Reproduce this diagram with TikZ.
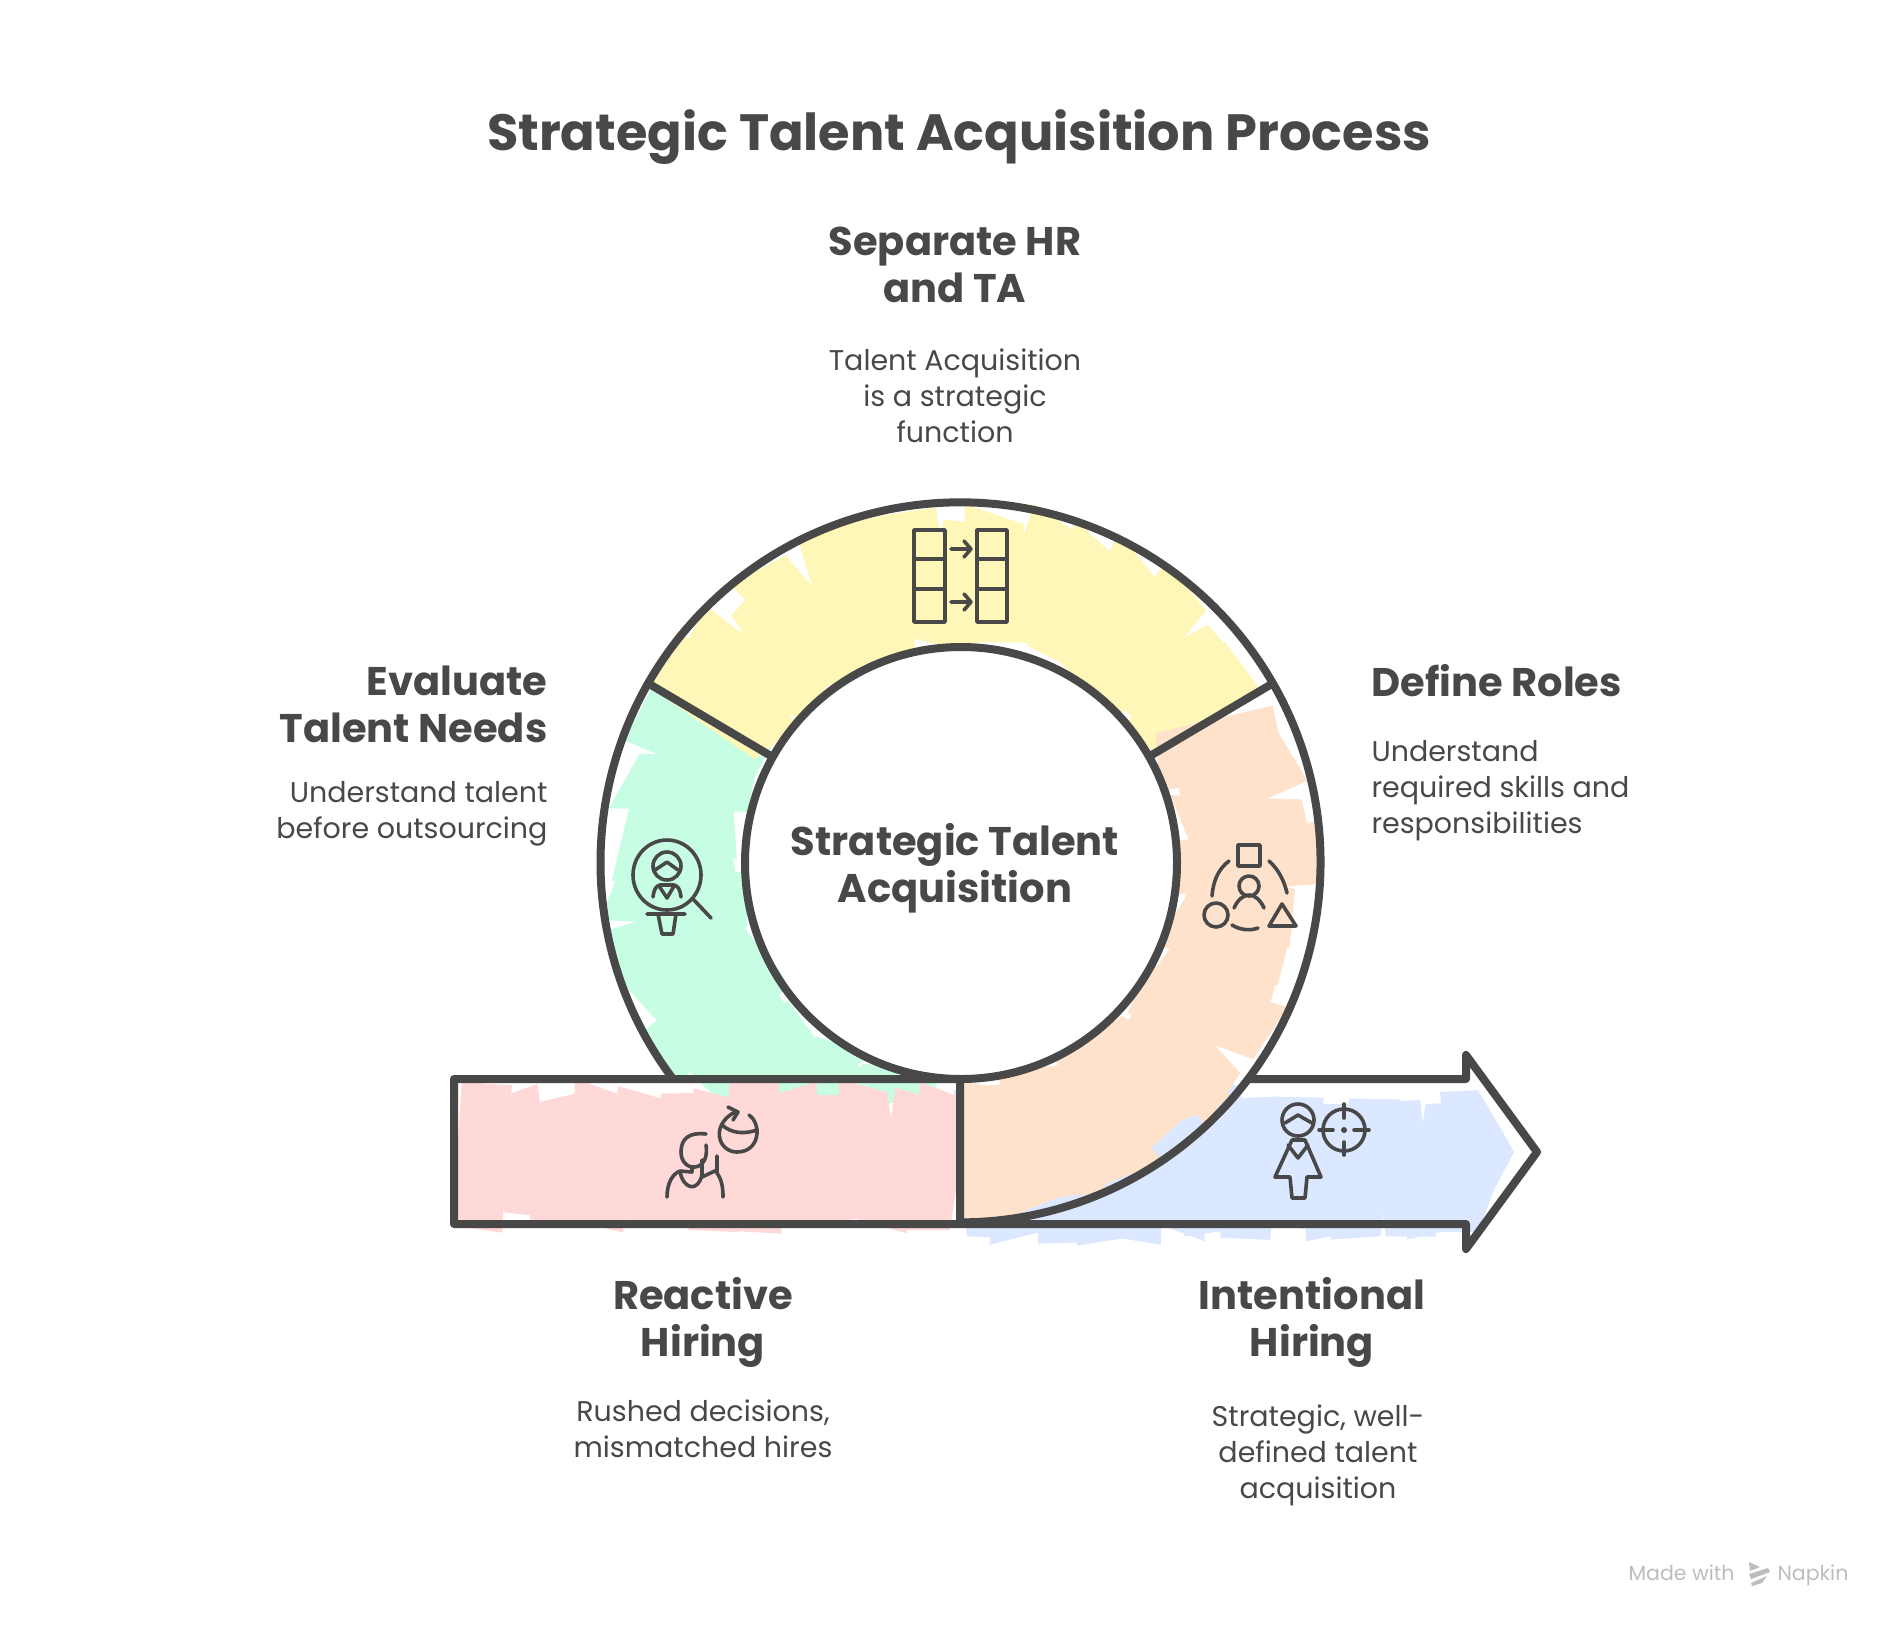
\documentclass[tikz,border=0pt]{standalone}
\usepackage{fontspec}
\setmainfont{Poppins}
\usetikzlibrary{decorations.pathmorphing}
\definecolor{inkgray}{HTML}{484848}
\definecolor{markgray}{HTML}{BDBDBD}
\definecolor{pinkfill}{HTML}{FFD8D8}
\definecolor{greenfill}{HTML}{C7FEE3}
\definecolor{yellowfill}{HTML}{FFF7B8}
\definecolor{orangefill}{HTML}{FFE2CB}
\definecolor{bluefill}{HTML}{DBE8FF}
\tikzset{
    sketchfill/.style={fill=#1, decorate, decoration={random steps, segment length=40pt, amplitude=9pt}},
    ringline/.style={draw=inkgray, line width=8pt, line cap=round, line join=round},
    iconline/.style={draw=inkgray, line width=3.6pt, line cap=round, line join=round},
    titletext/.style={text=inkgray, font=\fontsize{51}{58}\selectfont\bfseries, align=center},
    headtext/.style={text=inkgray, font=\fontsize{40}{47}\selectfont\bfseries},
    bodytext/.style={text=inkgray, font=\fontsize{28.5}{36}\selectfont}
}
% slanted bands round the ring: colour, list of angles
\newcommand{\ringbands}[2]{
    \foreach \a in {#2} {
        \pgfmathsetmacro{\tilt}{3.4*rand}
        \pgfmathsetmacro{\outa}{351+15*rand}
        \pgfmathsetmacro{\outb}{351+15*rand}
        \pgfmathsetmacro{\ina}{223+12*rand}
        \pgfmathsetmacro{\inb}{223+12*rand}
        \fill[#1, shift={(ring_c)}] (\a-5+\tilt:\outa) -- (\a+5+\tilt:\outb) -- (\a+7-\tilt:\inb) -- (\a-7-\tilt:\ina) -- cycle;
    }
}
% slanted bands along the bar: colour, list of x, top y, bottom y
\newcommand{\barbands}[4]{
    \foreach \b in {#2} {
        \pgfmathsetmacro{\tilt}{11*rand}
        \pgfmathsetmacro{\topa}{#3+13*rand}
        \pgfmathsetmacro{\topb}{#3+13*rand}
        \pgfmathsetmacro{\bota}{#4+13*rand}
        \pgfmathsetmacro{\botb}{#4+13*rand}
        \fill[#1] (\b-25+\tilt,\topa) -- (\b+25+\tilt,\topb) -- (\b+25-\tilt,\botb) -- (\b-25-\tilt,\bota) -- cycle;
    }
}
\begin{document}
\begin{tikzpicture}[x=1pt,y=-1pt]
    \useasboundingbox (0,0) rectangle (1897,1628);
    \pgfmathsetseed{11}

    % Ring and arrow corner points
    \coordinate (ring_c) at (960,862);
    \coordinate (hole_c) at (961,863);
    \coordinate (div_l_out) at (651,685);
    \coordinate (div_l_in) at (771,756);
    \coordinate (div_r_out) at (1270,685);
    \coordinate (div_r_in) at (1150,756);
    \coordinate (bar_tl) at (454,1079);
    \coordinate (bar_bl) at (454,1224);
    \coordinate (bar_tm) at (960,1079);
    \coordinate (bar_bm) at (960,1224);
    \coordinate (bar_tr) at (1466,1079);
    \coordinate (bar_br) at (1466,1224);
    \coordinate (head_t) at (1466,1055);
    \coordinate (head_b) at (1466,1249);
    \coordinate (head_tip) at (1537,1152);

    % Sketchy colour fills
    \path[sketchfill=bluefill] (1440,1092) -- (1478,1090) -- (1514,1152) -- (1478,1232) -- (1440,1232) -- cycle;
    \barbands{bluefill}{985,1023,...,1450}{1095}{1233}
    \begin{scope}
        \clip (560,600) rectangle (962,1102);
        \ringbands{greenfill}{101,109,...,205}
    \end{scope}
    \barbands{pinkfill}{482,521,...,930}{1091}{1222}
    \begin{scope}
        \clip (454,1060) rectangle (962,1250);
        \barbands{pinkfill}{935}{1091}{1222}
    \end{scope}
    \ringbands{yellowfill}{214,222,...,326}
    \begin{scope}
        \clip (962,600) rectangle (1360,1240);
        \ringbands{orangefill}{336,344,...,456}
    \end{scope}

    % Ring outline
    \draw[ringline] (673,1079) arc[start angle=143, end angle=450, radius=360];
    \draw[ringline] (hole_c) circle[radius=216];
    \draw[ringline] (div_l_out) -- (div_l_in);
    \draw[ringline] (div_r_out) -- (div_r_in);

    % Arrow outline
    \draw[ringline] (1250,1079) -- (bar_tr) -- (head_t) -- (head_tip) -- (head_b) -- (bar_br) -- (bar_bl) -- (bar_tl) -- (bar_tm) -- (bar_bm);

    % Icon for the left segment
    \draw[iconline] (667,875) circle[x radius=34, y radius=35];
    \draw[iconline] (667,866) circle[radius=14];
    \draw[iconline] (655,870) -- (667,862) -- (678,870);
    \draw[iconline] (653,897) .. controls (654,889) and (656,886) .. (660,885) -- (674,885) .. controls (678,886) and (680,889) .. (681,897);
    \draw[iconline] (659,886) -- (667,898) -- (674,886);
    \draw[iconline] (693,899) -- (711,918);
    \draw[iconline] (647,914) -- (685,914) (658,914) -- (662,934) -- (673,934) -- (676,914);

    % Icon for the top segment
    \draw[iconline] (914,530) rectangle (945,622) (914,559) -- (945,559) (914,589) -- (945,589);
    \draw[iconline] (977,530) rectangle (1007,622) (977,559) -- (1007,559) (977,589) -- (1007,589);
    \draw[iconline] (951,549) -- (971,549) (964,541) -- (971,549) -- (964,557);
    \draw[iconline] (951,602) -- (971,602) (964,594) -- (971,602) -- (964,610);

    % Icon for the right segment
    \draw[iconline] (1238,845) rectangle (1260,866);
    \draw[iconline] (1229,861) .. controls (1218,869) and (1213,882) .. (1212,896);
    \draw[iconline] (1269,861) .. controls (1278,869) and (1284,880) .. (1287,893);
    \draw[iconline] (1249,886) circle[radius=10];
    \draw[iconline] (1234,908) .. controls (1238,899) and (1244,895) .. (1249,895) .. controls (1254,895) and (1260,899) .. (1264,908);
    \draw[iconline] (1216,915) circle[radius=12];
    \draw[iconline] (1282,904) -- (1269,926) -- (1296,926) -- cycle;
    \draw[iconline] (1232,925) .. controls (1240,930) and (1250,931) .. (1258,928);

    % Icon for the reactive side
    \draw[iconline] (749,1115) .. controls (762,1124) and (760,1152) .. (737,1152) .. controls (718,1152) and (710,1125) .. (735,1112);
    \draw[iconline] (728,1107) -- (738,1112) -- (733,1120);
    \draw[iconline] (722,1125) .. controls (732,1134) and (745,1134) .. (757,1130);
    \draw[iconline] (706,1134) .. controls (690,1132) and (681,1138) .. (681,1152) .. controls (681,1162) and (688,1168) .. (695,1167) .. controls (703,1166) and (708,1158) .. (706,1145);
    \draw[iconline] (692,1167) -- (692,1172) -- (680,1171) .. controls (672,1174) and (667,1184) .. (667,1197);
    \draw[iconline] (680,1172) .. controls (684,1190) and (698,1192) .. (702,1175) -- (702,1160);
    \draw[iconline] (702,1177) -- (717,1170);
    \draw[iconline] (717,1156) -- (717,1173) .. controls (722,1180) and (723,1188) .. (723,1197);

    % Icon for the intentional side
    \draw[iconline] (1298,1120) circle[radius=16];
    \draw[iconline] (1285,1123) -- (1298,1115) -- (1312,1123);
    \draw[iconline] (1292,1140) -- (1305,1140) -- (1321,1177) -- (1307,1177) -- (1305,1198) -- (1292,1198) -- (1290,1177) -- (1275,1177) -- cycle;
    \draw[iconline] (1288,1145) -- (1298,1158) -- (1308,1145);
    \draw[iconline] (1344,1130) circle[radius=21];
    \draw[iconline] (1319,1130) -- (1333,1130) (1354,1130) -- (1369,1130) (1344,1104) -- (1344,1118) (1344,1142) -- (1344,1155);
    \fill[inkgray] (1344,1130) circle[radius=3];

    % Title and labels
    \node[titletext] (title) at (959,137) {Strategic Talent Acquisition Process};
    \node[headtext, align=center] (separate_head) at (955,265) {Separate HR\\and TA};
    \node[bodytext, align=center] (separate_body) at (955,396) {Talent Acquisition\\is a strategic\\function};
    \node[headtext, align=right, anchor=east] (evaluate_head) at (551,704) {Evaluate\\Talent Needs};
    \node[bodytext, align=right, anchor=east] (evaluate_body) at (551,814) {Understand talent\\before outsourcing};
    \node[headtext, align=left, anchor=west] (define_head) at (1368,681) {Define Roles};
    \node[bodytext, align=left, anchor=west] (define_body) at (1368,791) {Understand\\required skills and\\responsibilities};
    \node[headtext, align=center] (reactive_head) at (703,1322) {Reactive\\Hiring};
    \node[bodytext, align=center] (reactive_body) at (703,1429) {Rushed decisions,\\mismatched hires};
    \node[headtext, align=center] (intentional_head) at (1312,1322) {Intentional\\Hiring};
    \node[bodytext, align=center] (intentional_body) at (1318,1455) {Strategic, well-\\defined talent\\acquisition};
    \node[headtext, align=center] (center_text) at (955,868) {Strategic Talent\\Acquisition};

    % Maker mark
    \node[text=markgray, font=\fontsize{20.5}{25}\selectfont, anchor=base east] (mark_made) at (1738,1580) {Made with};
    \node[text=markgray, font=\fontsize{20.5}{25}\selectfont, anchor=base west] (mark_name) at (1774,1580) {Napkin};
    \fill[markgray] (1749,1562) -- (1760,1567) -- (1750,1571) -- cycle;
    \fill[markgray] (1749,1574) -- (1768,1568) -- (1770,1572) -- (1751,1579) -- cycle;
    \fill[markgray] (1751,1583) -- (1767,1576) -- (1762,1583) -- (1752,1586) -- cycle;
\end{tikzpicture}
\end{document}
